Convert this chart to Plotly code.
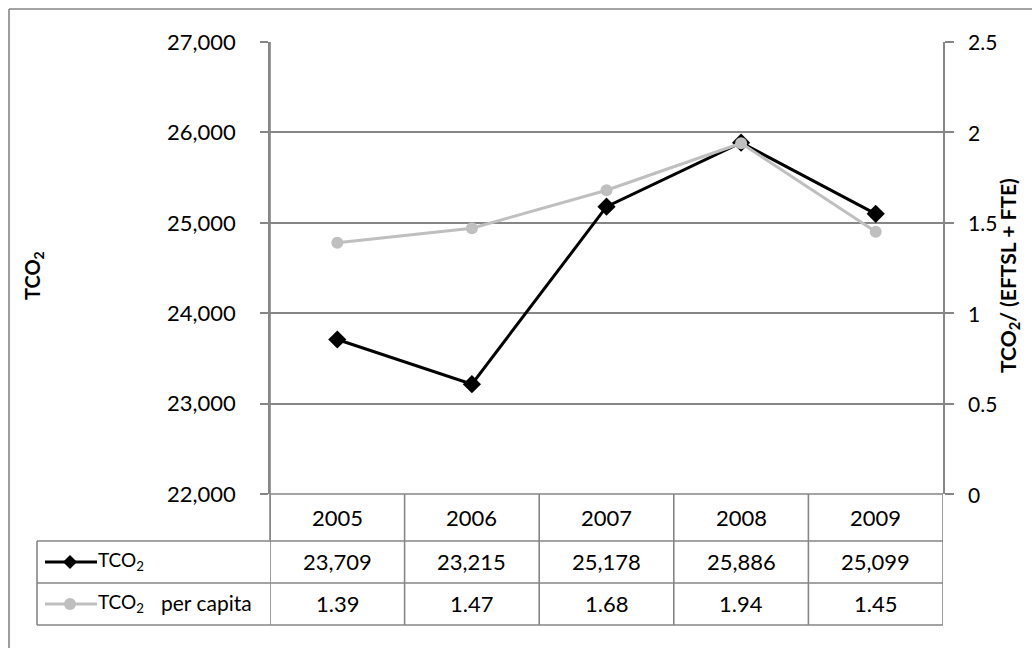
import plotly.graph_objects as go

years = ["2005", "2006", "2007", "2008", "2009"]
tco2 = [23709, 23215, 25178, 25886, 25099]
per_capita = [1.39, 1.47, 1.68, 1.94, 1.45]
left_ticks = [22000, 23000, 24000, 25000, 26000, 27000]
right_ticks = [0, 0.5, 1, 1.5, 2, 2.5]
right_tick_text = ["0", "0.5", "1", "1.5", "2", "2.5"]

W, H = 1032, 648
FONT = "Lato"
GRID = "#868686"
BLACK = "#000000"
GREY = "#BFBFBF"

def px(x):
    return x / W

def py(y):
    return 1 - y / H

# plot area in pixels
PL, PR, PT, PB = 270, 943, 42, 494
ROW1, ROW2, ROW3 = 541, 583, 625
TBL_L = 37

xi = list(range(len(years)))

fig = go.Figure()
fig.add_trace(go.Scatter(
    x=xi, y=tco2, mode="lines+markers", name="TCO2",
    line=dict(color=BLACK, width=3),
    marker=dict(symbol="diamond", size=14, color=BLACK),
    yaxis="y", showlegend=False))
fig.add_trace(go.Scatter(
    x=xi, y=per_capita, mode="lines+markers", name="TCO2 per capita",
    line=dict(color=GREY, width=3),
    marker=dict(symbol="circle", size=12, color=GREY),
    yaxis="y2", showlegend=False))

shapes = []
def line(x0, y0, x1, y1, xref="paper", w=1.6, color=GRID):
    shapes.append(dict(type="line", xref=xref, yref="paper",
                       x0=x0, y0=y0, x1=x1, y1=y1,
                       line=dict(color=color, width=w)))

# outer chart border
line(px(9), py(9), px(1040), py(9))
line(px(9), py(9), px(9), py(660))

# table: horizontal lines
line(px(PL), py(PB), px(PR), py(PB))
line(px(TBL_L), py(ROW1), px(PR), py(ROW1))
line(px(TBL_L), py(ROW2), px(PR), py(ROW2))
line(px(TBL_L), py(ROW3), px(PR), py(ROW3))
# left edge of the legend column
line(px(TBL_L), py(ROW1), px(TBL_L), py(ROW3))
# vertical separators at category boundaries
for i in range(len(years) + 1):
    b = i - 0.5
    shapes.append(dict(type="line", xref="x", yref="paper",
                       x0=b, x1=b, y0=py(PB), y1=py(ROW3),
                       line=dict(color=GRID, width=1.6)))
# left axis line extends down to the header row
line(px(PL), py(PT), px(PL), py(ROW1))

# legend samples inside the table
ly1 = (ROW1 + ROW2) / 2
ly2 = (ROW2 + ROW3) / 2
line(px(45), py(ly1), px(97), py(ly1), w=3, color=BLACK)
line(px(45), py(ly2), px(97), py(ly2), w=3, color=GREY)
cx = 70
d = 7
shapes.append(dict(type="path", xref="paper", yref="paper",
                   path=f"M {px(cx-d)} {py(ly1)} L {px(cx)} {py(ly1-d)} L {px(cx+d)} {py(ly1)} L {px(cx)} {py(ly1+d)} Z",
                   fillcolor=BLACK, line=dict(color=BLACK, width=0)))
r = 6
shapes.append(dict(type="circle", xref="paper", yref="paper",
                   x0=px(cx-r), x1=px(cx+r), y0=py(ly2+r), y1=py(ly2-r),
                   fillcolor=GREY, line=dict(color=GREY, width=0)))

annotations = []
def text(x, y, s, xref="paper", yref="paper", size=22, xanchor="center", **kw):
    annotations.append(dict(x=x, y=y, xref=xref, yref=yref, text=s,
                            showarrow=False, xanchor=xanchor, yanchor="middle",
                            font=dict(family=FONT, size=size, color="#000"), **kw))

hy = (PB + ROW1) / 2
for i, yr in enumerate(years):
    text(i, py(hy), yr, xref="x")
    text(i, py(ly1 - 1), f"{tco2[i]:,}", xref="x")
    text(i, py(ly2 - 1), f"{per_capita[i]:.2f}", xref="x")

text(px(96), py(ly1 - 1), "TCO<sub>2</sub>", size=19, xanchor="left")
text(px(96), py(ly2 - 1), "TCO<sub>2</sub>", size=19, xanchor="left")
text(px(159), py(ly2 - 2), "per capita", size=21, xanchor="left")

# right axis tick labels
for v, t in zip(right_ticks, right_tick_text):
    text(px(966), v, t, yref="y2", size=21, xanchor="left")

# axis titles
text(px(33), py((PT + PB) / 2 + 8), "<b>TCO<sub>2</sub></b>", size=20, textangle=-90)
text(px(1009), py((PT + PB) / 2 + 8), "<b>TCO<sub>2</sub>/ (EFTSL + FTE)</b>", size=21, textangle=-90)

fig.update_layout(
    width=W, height=H,
    margin=dict(l=0, r=0, t=0, b=0, autoexpand=False),
    paper_bgcolor="white", plot_bgcolor="white",
    xaxis=dict(domain=[px(PL), px(PR)], range=[-0.5, len(years) - 0.5],
               showticklabels=False, showgrid=False, zeroline=False,
               showline=False, ticks="", automargin=False),
    yaxis=dict(domain=[py(PB), py(PT)], range=[left_ticks[0], left_ticks[-1]],
               tickvals=left_ticks, tickformat=",", showgrid=True,
               gridcolor=GRID, gridwidth=1.6, zeroline=False,
               showline=True, linecolor=GRID, linewidth=1.6,
               ticks="outside", ticklen=8, tickcolor=GRID, tickwidth=1.6,
               ticklabelstandoff=20, automargin=False,
               tickfont=dict(family=FONT, size=22, color="#000")),
    yaxis2=dict(domain=[py(PB), py(PT)], overlaying="y", side="right",
                range=[right_ticks[0], right_ticks[-1]], tickvals=right_ticks,
                showticklabels=False, showgrid=False, zeroline=False,
                showline=True, linecolor=GRID, linewidth=1.6,
                ticks="outside", ticklen=9, tickcolor=GRID, tickwidth=1.6,
                automargin=False),
    shapes=shapes,
    annotations=annotations,
)

fig.write_html("out.html")
